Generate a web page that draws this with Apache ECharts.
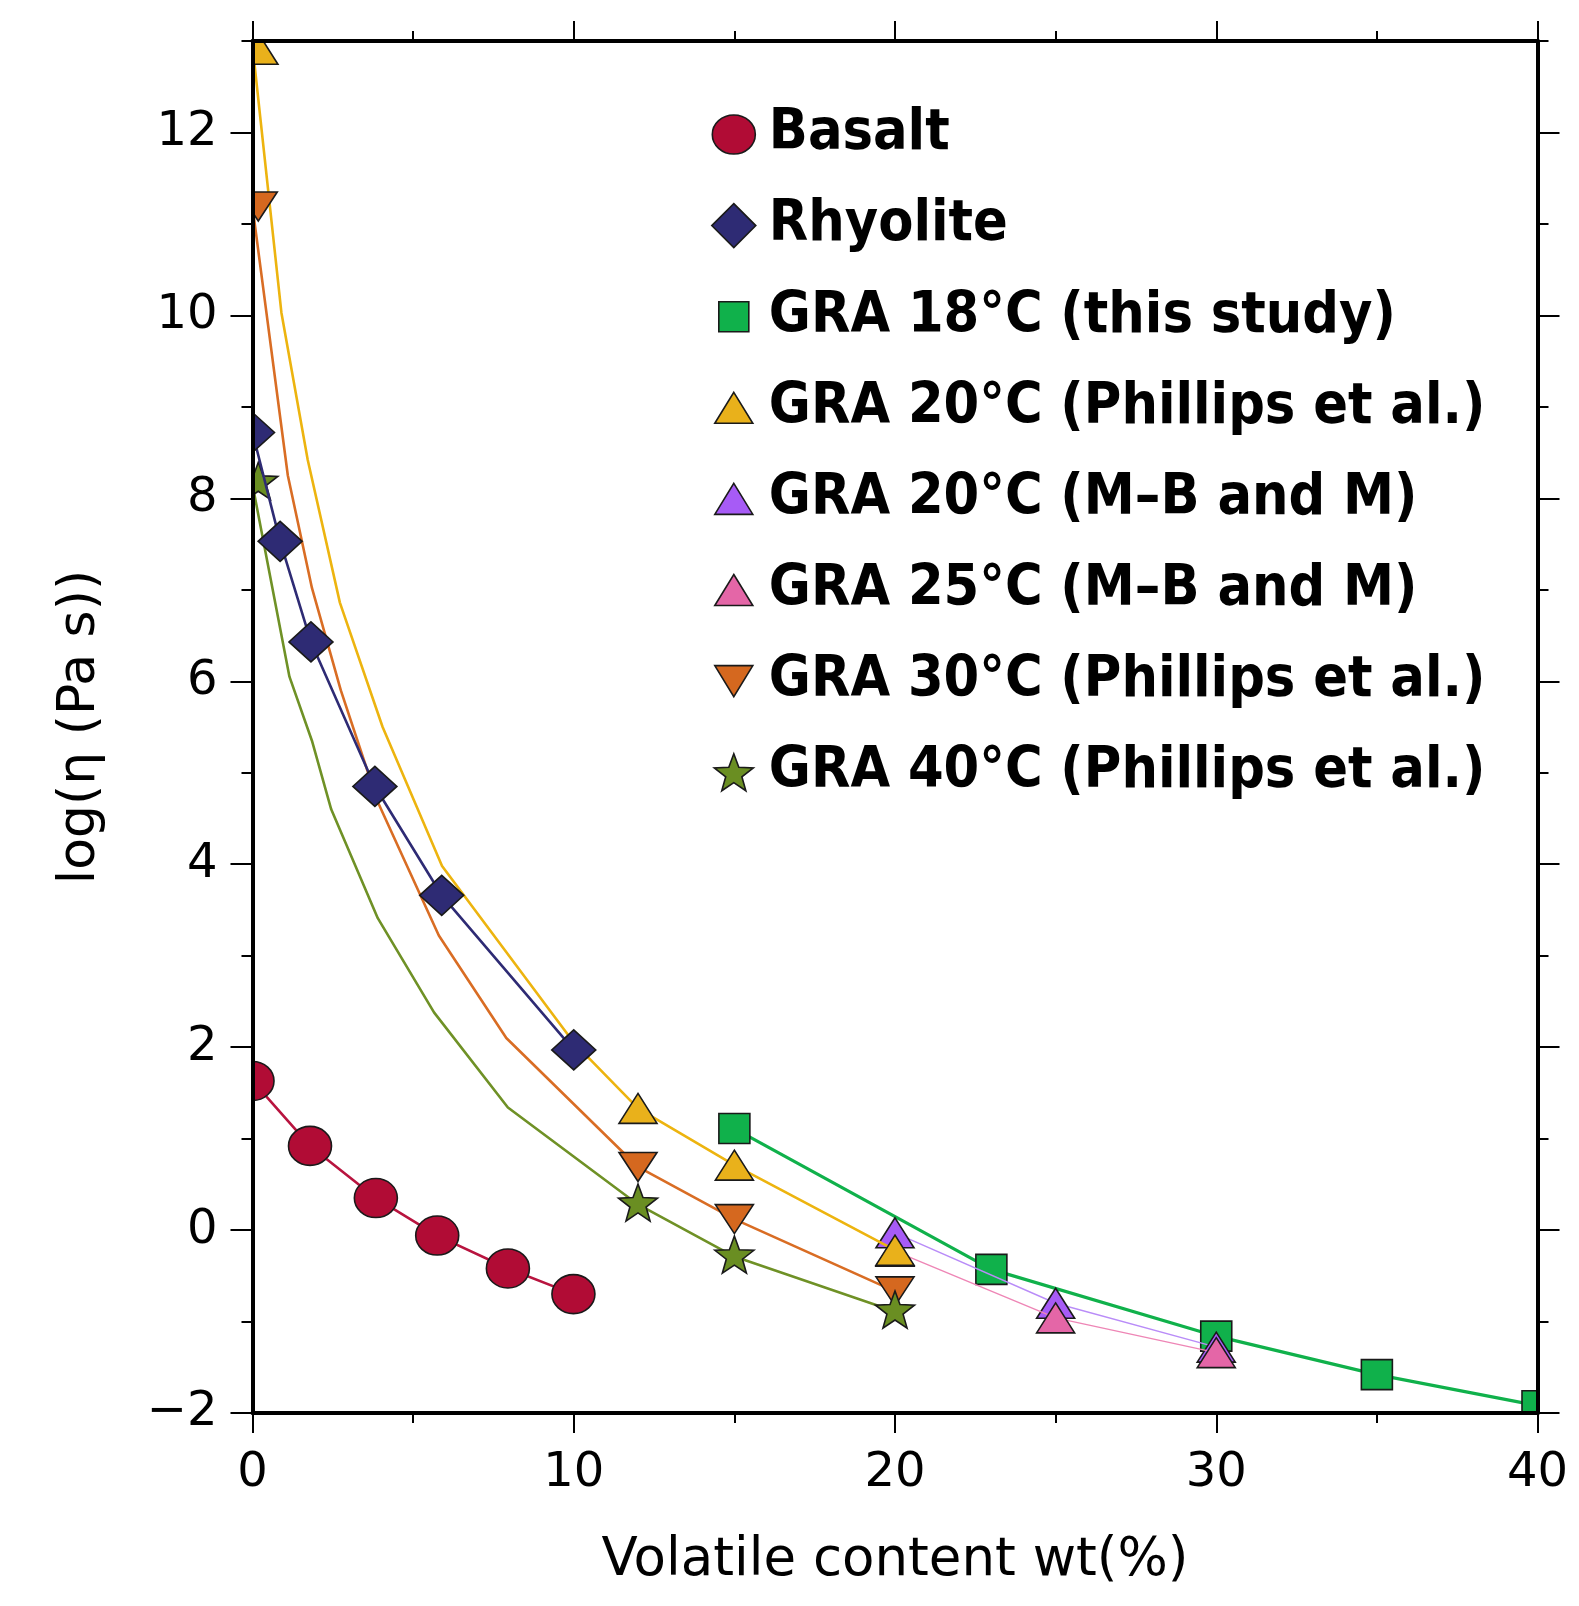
<!DOCTYPE html>
<html><head><meta charset="utf-8">
<script src="https://cdn.jsdelivr.net/npm/echarts@6/dist/echarts.min.js"></script>
<style>html,body{margin:0;padding:0;background:#fff}#c{width:1579px;height:1606px}</style>
</head><body><div id="c"></div>
<script>
// ---------- data ----------
const xTickValues = [0, 10, 20, 30, 40];
const yTickLabels = [-2, 0, 2, 4, 6, 8, 10, 12];
const yMinorTicks = [-2, -1, 0, 1, 2, 3, 4, 5, 6, 7, 8, 9, 10, 11, 12, 13];

const seriesNames = ['Basalt', 'Rhyolite', 'GRA 18\u00B0C (this study)', 'GRA 20\u00B0C (Phillips et al.)',
  'GRA 20\u00B0C (M\u2013B and M)', 'GRA 25\u00B0C (M\u2013B and M)', 'GRA 30\u00B0C (Phillips et al.)', 'GRA 40\u00B0C (Phillips et al.)'];

const basaltX = [0, 1.79, 3.84, 5.75, 7.95, 9.99];
const basaltY = [1.63, 0.92, 0.35, -0.06, -0.42, -0.70];

const rhyoliteX = [0, 0.86, 1.82, 3.81, 5.89, 10.0];
const rhyoliteY = [8.72, 7.53, 6.43, 4.85, 3.66, 1.97];

const gra18X = [15, 23, 30, 35, 40];
const gra18Y = [1.11, -0.43, -1.16, -1.58, -1.92];

const gra20mbX = [20, 25, 30];
const gra20mbY = [-0.03, -0.80, -1.28];

const gra25mbX = [20, 25, 30];
const gra25mbY = [-0.23, -0.96, -1.34];

const gra20phX = [0.2, 12, 15, 20];
const gra20phY = [12.91, 1.33, 0.71, -0.22];
const gra20phCurveX = [0, 0.9, 1.72, 2.72, 4.05, 5.9, 10, 12, 15, 20];
const gra20phCurveY = [12.95, 10.03, 8.42, 6.86, 5.5, 3.98, 2.05, 1.33, 0.71, -0.22];

const gra30phX = [0.18, 12, 15, 20];
const gra30phY = [11.19, 0.69, 0.12, -0.67];
const gra30phCurveX = [0, 1.1, 1.85, 2.75, 3.9, 5.8, 7.9, 12, 15, 20];
const gra30phCurveY = [11.19, 8.25, 7.02, 5.9, 4.68, 3.22, 2.1, 0.69, 0.12, -0.67];

const gra40phX = [0.18, 12, 15, 20];
const gra40phY = [8.17, 0.28, -0.29, -0.89];
const gra40phCurveX = [0, 1.15, 1.85, 2.45, 3.9, 5.65, 7.95, 12, 15, 20];
const gra40phCurveY = [8.15, 6.05, 5.35, 4.6, 3.41, 2.38, 1.34, 0.28, -0.29, -0.89];

// ---------- styling helpers ----------
const FONT = 'DejaVu Sans';
const EDGE = '#1a1a1a';
const pairs = (xs, ys) => xs.map((x, i) => [x, ys[i]]);

function fontInstalled(name) {
  const ctx = document.createElement('canvas').getContext('2d');
  const s = 'GRA 20\u00B0C (Phillips et al.) Basalt';
  ctx.font = 'bold 50px monospace';
  const a = ctx.measureText(s).width;
  ctx.font = 'bold 50px "' + name + '", monospace';
  const b = ctx.measureText(s).width;
  return Math.abs(a - b) > 0.5;
}
const condensed = fontInstalled('DejaVu Sans Condensed');
const LEGEND_FONT = condensed ? 'DejaVu Sans Condensed' : FONT;
const LEGEND_SIZE = condensed ? 57 : 52;
const LEGEND_ROW = 91.1;
const LEGEND_ITEM_H = Math.max(LEGEND_SIZE, 53.6);

function starPoints(cx, cy, R, r) {
  const pts = [];
  for (let k = 0; k < 10; k++) {
    const a = (-90 + k * 36) * Math.PI / 180;
    const rad = k % 2 === 0 ? R : r;
    pts.push([cx + rad * Math.cos(a), cy + rad * Math.sin(a)]);
  }
  return pts;
}

function markerShape(kind, cx, cy, fill) {
  const style = { fill: fill, stroke: EDGE, lineWidth: 1.6 };
  switch (kind) {
    case 'ellipse':
      return { type: 'ellipse', shape: { cx: cx, cy: cy, rx: 21.5, ry: 19.5 }, style: style };
    case 'diamond':
      return { type: 'polygon', shape: { points: [[cx, cy - 20], [cx + 22, cy], [cx, cy + 20], [cx - 22, cy]] }, style: style };
    case 'square':
      return { type: 'rect', shape: { x: cx - 15.5, y: cy - 15, width: 31, height: 30 }, style: style };
    case 'triangle':
      return { type: 'polygon', shape: { points: [[cx, cy - 15], [cx + 19, cy + 15], [cx - 19, cy + 15]] }, style: style };
    case 'triangleDown':
      return { type: 'polygon', shape: { points: [[cx - 19, cy - 14.5], [cx + 19, cy - 14.5], [cx, cy + 14.5]] }, style: style };
    case 'star':
      return { type: 'polygon', shape: { points: starPoints(cx, cy, 20.5, 8.5) }, style: style };
  }
}

// legend icons in a 60x52 box (padding points keep the natural size)
const PAD = 'M0,0M60,52';
function starPath() {
  const pts = starPoints(30, 28, 20.5, 8.5);
  return 'path://' + PAD + 'M' + pts.map(p => p[0].toFixed(2) + ',' + p[1].toFixed(2)).join('L') + 'Z';
}
const legendIcons = {
  ellipse: 'path://' + PAD + 'M8.5,26A21.5,19.5,0,1,1,51.5,26A21.5,19.5,0,1,1,8.5,26Z',
  diamond: 'path://' + PAD + 'M30,4L52,26L30,48L8,26Z',
  square: 'path://' + PAD + 'M15,11L45,11L45,41L15,41Z',
  triangle: 'path://' + PAD + 'M30,10.5L49,41.5L11,41.5Z',
  triangleDown: 'path://' + PAD + 'M11,10.5L49,10.5L30,41.5Z',
  star: starPath()
};

// groups in drawing order
const groups = [
  { name: seriesNames[0], pts: pairs(basaltX, basaltY), curve: pairs(basaltX, basaltY), kind: 'ellipse', fill: '#B10C35', line: '#B8143F', lw: 2.6 },
  { name: seriesNames[2], pts: pairs(gra18X, gra18Y), curve: pairs(gra18X, gra18Y), kind: 'square', fill: '#10B14B', line: '#10B14B', lw: 3.2 },
  { name: seriesNames[4], pts: pairs(gra20mbX, gra20mbY), curve: pairs(gra20mbX, gra20mbY), kind: 'triangle', fill: '#A75BF6', line: '#B98CF8', lw: 1.4 },
  { name: seriesNames[5], pts: pairs(gra25mbX, gra25mbY), curve: pairs(gra25mbX, gra25mbY), kind: 'triangle', fill: '#E466A7', line: '#EE86B6', lw: 1.4 },
  { name: seriesNames[3], pts: pairs(gra20phX, gra20phY), curve: pairs(gra20phCurveX, gra20phCurveY), kind: 'triangle', fill: '#E9B11B', line: '#EDB40F', lw: 2.6 },
  { name: seriesNames[6], pts: pairs(gra30phX, gra30phY), curve: pairs(gra30phCurveX, gra30phCurveY), kind: 'triangleDown', fill: '#D5681F', line: '#D96D24', lw: 2.6 },
  { name: seriesNames[7], pts: pairs(gra40phX, gra40phY), curve: pairs(gra40phCurveX, gra40phCurveY), kind: 'star', fill: '#6A8E22', line: '#6F9126', lw: 2.6 },
  { name: seriesNames[1], pts: pairs(rhyoliteX, rhyoliteY), curve: pairs(rhyoliteX, rhyoliteY), kind: 'diamond', fill: '#2E2B74', line: '#2E2B74', lw: 2.6 }
];

const series = [];
groups.forEach((g, i) => {
  series.push({
    type: 'line', name: g.name + ' curve', data: g.curve, xAxisIndex: 0, yAxisIndex: 0,
    symbol: 'none', showSymbol: false, clip: true, silent: true, animation: false,
    z: 10 + 2 * i, lineStyle: { color: g.line, width: g.lw }
  });
  series.push({
    type: 'custom', name: g.name, data: g.pts, xAxisIndex: 0, yAxisIndex: 0,
    clip: true, silent: true, animation: false, z: 11 + 2 * i,
    itemStyle: { color: g.fill },
    renderItem: function (params, api) {
      const c = api.coord([api.value(0), api.value(1)]);
      return markerShape(g.kind, c[0], c[1], g.fill);
    }
  });
});

const legendOrder = [0, 7, 1, 4, 2, 3, 5, 6]; // indices into groups
const legendData = legendOrder.map(k => ({
  name: groups[k].name,
  icon: legendIcons[groups[k].kind],
  itemStyle: { color: groups[k].fill, borderColor: EDGE, borderWidth: 1.6 }
}));

const tickLine = { color: '#000', width: 2 };
const axisLineStyle = { show: true, onZero: false, lineStyle: { color: '#000', width: 4 } };
const labelStyle = { fontFamily: FONT, fontSize: 48, color: '#000' };
const fmt = v => (v < 0 ? '\u2212' + Math.abs(v) : String(v));

const xAxisBase = {
  type: 'value', min: 0, max: 40, interval: 10, z: 50,
  axisLine: axisLineStyle, splitLine: { show: false },
  axisTick: { show: true, inside: false, length: 20, lineStyle: tickLine },
  minorTick: { show: true, splitNumber: 2, length: 10, lineStyle: tickLine }
};

const option = {
  animation: false,
  backgroundColor: '#ffffff',
  textStyle: { fontFamily: FONT },
  grid: { left: 252.5, right: 41.5, top: 41, bottom: 193, containLabel: false, outerBoundsMode: 'none' },
  xAxis: [
    Object.assign({}, xAxisBase, {
      position: 'bottom',
      axisLabel: Object.assign({ show: true, margin: 37, customValues: xTickValues, formatter: fmt }, labelStyle),
      name: 'Volatile content wt(%)', nameLocation: 'middle', nameGap: 122,
      nameTextStyle: { fontFamily: FONT, fontSize: 53, color: '#000' }
    }),
    Object.assign({}, xAxisBase, { position: 'top', axisLabel: { show: false } })
  ],
  yAxis: [
    { type: 'value', position: 'left', min: -2, max: 13, interval: 1, z: 50,
      axisLine: { show: false, onZero: false }, splitLine: { show: false }, axisLabel: { show: false },
      axisTick: { show: true, inside: false, length: 11, lineStyle: tickLine, customValues: yMinorTicks } },
    { type: 'value', position: 'left', min: -2, max: 13, interval: 2, z: 51,
      axisLine: axisLineStyle, splitLine: { show: false },
      axisTick: { show: true, inside: false, length: 22, lineStyle: tickLine, customValues: yTickLabels },
      axisLabel: Object.assign({ show: true, margin: 35, customValues: yTickLabels, formatter: fmt }, labelStyle),
      name: 'log(\u03B7 (Pa s))', nameLocation: 'middle', nameGap: 146,
      nameTextStyle: { fontFamily: FONT, fontSize: 52, color: '#000' } },
    { type: 'value', position: 'right', min: -2, max: 13, interval: 1, z: 50,
      axisLine: { show: false, onZero: false }, splitLine: { show: false }, axisLabel: { show: false },
      axisTick: { show: true, inside: false, length: 11, lineStyle: tickLine, customValues: yMinorTicks } },
    { type: 'value', position: 'right', min: -2, max: 13, interval: 2, z: 51,
      axisLine: axisLineStyle, splitLine: { show: false }, axisLabel: { show: false },
      axisTick: { show: true, inside: false, length: 22, lineStyle: tickLine, customValues: yTickLabels } }
  ],
  legend: {
    show: true, orient: 'vertical', left: 703, top: 134.5 - LEGEND_ITEM_H / 2, padding: 0,
    itemWidth: 60, itemHeight: 52, itemGap: LEGEND_ROW - LEGEND_ITEM_H,
    selectedMode: false,
    data: legendData,
    textStyle: { fontFamily: LEGEND_FONT, fontSize: LEGEND_SIZE, fontWeight: 'bold', color: '#000', lineHeight: LEGEND_SIZE }
  },
  series: series
};

const chart = echarts.init(document.getElementById('c'), null, { renderer: 'canvas' });
chart.setOption(option);
</script>
</body></html>
